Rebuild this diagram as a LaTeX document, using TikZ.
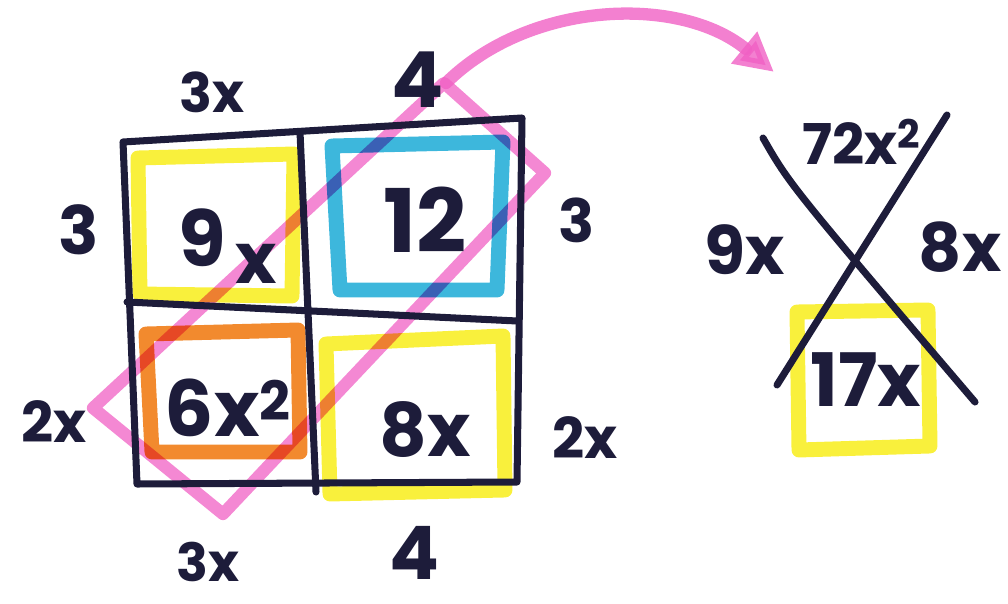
\documentclass[tikz,border=0pt]{standalone}
\usepackage{fontspec}
\setmainfont{Poppins}
\usetikzlibrary{arrows.meta}
\definecolor{ink}{HTML}{1D1C3A}
\definecolor{hlyellow}{HTML}{F9F03C}
\definecolor{hlblue}{HTML}{3DB7DC}
\definecolor{hlorange}{HTML}{F28A2E}
\definecolor{hlpink}{HTML}{F060C4}
\tikzset{
  inkline/.style={draw=ink, line width=4pt, line cap=round, line join=round},
  hl/.style={line width=8.5pt, line join=round, line cap=round},
  lbl/.style={text=ink, inner sep=0pt, font=\fontsize{#1}{#1}\selectfont\bfseries},
}
\begin{document}
\begin{tikzpicture}[x=0.02cm,y=-0.02cm]
\useasboundingbox (0,0) rectangle (1008,604);
% highlighter squares
\draw[hl, hlyellow] (138,158) -- (294,154) -- (292,296) -- (140,294) -- cycle;
\draw[hl, hlblue] (332,146) -- (503,142) -- (497,290) -- (340,290) -- cycle;
\draw[hl, hlorange] (146,334) -- (298,330) -- (300,452) -- (152,452) -- cycle;
\draw[hl, hlyellow] (326,344) -- (503,336) -- (505,490) -- (330,494) -- cycle;
\draw[hl, hlyellow] (797,312) -- (928,310) -- (930,446) -- (799,450) -- cycle;
% pink band and arrow
\begin{scope}[blend mode=multiply]
\coordinate (pL) at (93,408);
\coordinate (pB) at (223,514);
\coordinate (pR) at (545,173);
\coordinate (pT) at (444,83);
\draw[hl, hlpink, line width=7pt, opacity=0.75] (pL) -- (pB) -- (pR) -- (pT) -- cycle;
\end{scope}
\coordinate (aS) at (446,83);
\coordinate (aE) at (774,72);
\draw[hl, hlpink, line width=7pt, opacity=0.8, -{Triangle[length=22pt,width=22pt]}]
  (aS) .. controls (530,0) and (680,-5) .. (aE);
% grid
\coordinate (g1) at (123,142);
\coordinate (g2) at (522,118);
\coordinate (g3) at (517,482);
\coordinate (g4) at (137,484);
\draw[inkline] (g1) -- (g2) -- (g3) -- (g4) -- cycle;
\coordinate (v1) at (300,132);
\coordinate (v2) at (316,492);
\draw[inkline] (v1) -- (v2);
\coordinate (h1) at (127,302);
\coordinate (h2) at (517,321);
\draw[inkline] (h1) -- (h2);
% cross
\coordinate (c1) at (763,138);
\coordinate (c2) at (975,402);
\coordinate (c3) at (947,115);
\coordinate (c4) at (777,385);
\draw[inkline] (c1) .. controls (790,185) .. (c2);
\draw[inkline] (c3) -- (c4);
% labels
\node[lbl=31] (t3x) at (212,92) {3x};
\node[lbl=44] (t4) at (418,80) {4};
\node[lbl=38] (l3) at (79,230) {3};
\node[lbl=44] (c9) at (202,238) {9};
\node[lbl=40] (cx) at (256,264) {x};
\node[lbl=50] (c12) at (425,220) {12};
\node[lbl=34] (r3) at (577,220) {3};
\node[lbl=32] (l2x) at (54,422) {2x};
\node[lbl=44] (c6) at (228,408) {6x\textsuperscript{2}};
\node[lbl=42] (c8) at (425,430) {8x};
\node[lbl=32] (r2x) at (585,438) {2x};
\node[lbl=30] (b3x) at (208,562) {3x};
\node[lbl=42] (b4) at (414,553) {4};
\node[lbl=32] (x72) at (862,142) {72x\textsuperscript{2}};
\node[lbl=38] (x9) at (745,250) {9x};
\node[lbl=38] (x8) at (960,247) {8x};
\node[lbl=42] (x17) at (866,380) {17x};
\end{tikzpicture}
\end{document}
